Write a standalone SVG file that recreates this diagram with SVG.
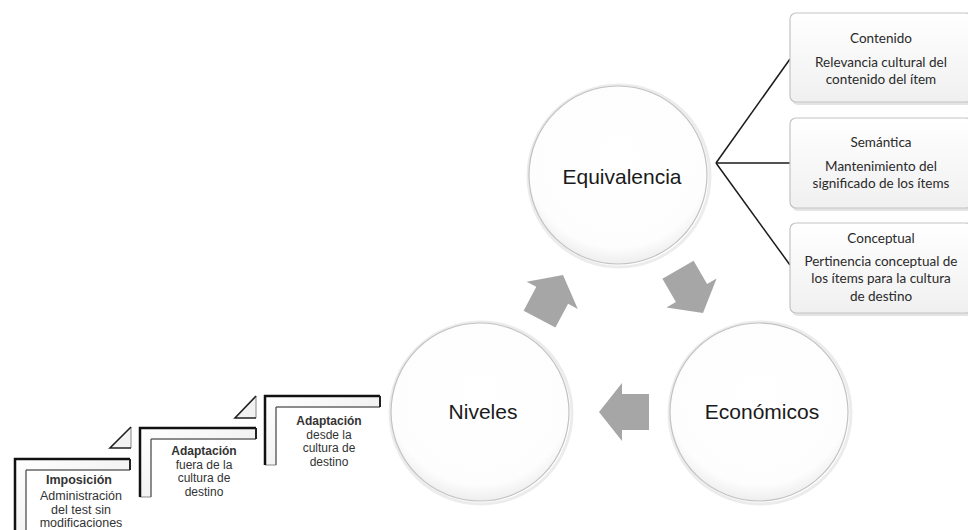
<svg xmlns="http://www.w3.org/2000/svg" width="968" height="530" viewBox="0 0 968 530">
<defs>
<radialGradient id="cg" cx="0.5" cy="0.4" r="0.6">
<stop offset="0" stop-color="#ffffff"/>
<stop offset="0.85" stop-color="#fdfdfd"/>
<stop offset="1" stop-color="#eeeeee"/>
</radialGradient>
<linearGradient id="bg" x1="0" y1="0" x2="0" y2="1">
<stop offset="0" stop-color="#ffffff"/>
<stop offset="1" stop-color="#f0f0f0"/>
</linearGradient>
<linearGradient id="band" x1="0" y1="0" x2="1" y2="1">
<stop offset="0" stop-color="#ffffff"/>
<stop offset="1" stop-color="#e8e8e8"/>
</linearGradient>
<path id="arr" d="M0,0 L-23,-29 L-23,-18 L-50,-18 L-50,18 L-23,18 L-23,29 Z"/>
</defs>
<style>
.circ{fill:url(#cg);stroke:#c2c2c2;stroke-width:1.2}
.ring{fill:none;stroke:#ececec;stroke-width:3}
.ctext{font-family:"Liberation Sans",Arial,sans-serif;font-size:21px;fill:#1a1a1a;text-anchor:middle}
.box{fill:url(#bg);stroke:#c4c4c4;stroke-width:1.2}
.bshadow{fill:#e4e4e4}
.btext{font-family:Lato,"Noto Sans",sans-serif;font-size:13.5px;fill:#2a2a2a;text-anchor:middle}
.arrow{fill:#a6a6a6}
.conn{stroke:#1a1a1a;stroke-width:1.5;fill:none}
.bandfill{fill:url(#band);stroke:#8a8a8a;stroke-width:1}
.bandout{fill:none;stroke:#111;stroke-width:2.5}
.bandin{fill:none;stroke:#555;stroke-width:1}
.bandend{fill:none;stroke:#222;stroke-width:2}
.tri{fill:#f2f2f2}
.triedge{fill:none;stroke:#222;stroke-width:1.6}
.triside{fill:none;stroke:#999;stroke-width:1.2}
.ltext{font-family:"Liberation Sans",Arial,sans-serif;font-size:12px;fill:#333;text-anchor:middle}
.lbold{font-weight:bold}
.big{font-size:12.5px}
</style>

<g id="connectors">
<path class="conn" d="M716,163 L790,59"/>
<path class="conn" d="M716,163 L790,163"/>
<path class="conn" d="M716,163 L790,265"/>
</g>

<g id="arrows">
<use href="#arr" class="arrow" transform="translate(563,275) rotate(-62)"/>
<use href="#arr" class="arrow" transform="translate(703,313) rotate(60)"/>
<use href="#arr" class="arrow" transform="translate(599,412) rotate(180)"/>
</g>

<g id="equivalencia">
<circle class="ring" cx="619" cy="176" r="91"/>
<circle class="circ" cx="618" cy="175" r="89"/>
<text class="ctext" x="622" y="184">Equivalencia</text>
</g>

<g id="economicos">
<circle class="ring" cx="760" cy="413" r="91"/>
<circle class="circ" cx="759" cy="412" r="89"/>
<text class="ctext" x="762" y="419">Económicos</text>
</g>

<g id="niveles">
<circle class="ring" cx="481" cy="413" r="91"/>
<circle class="circ" cx="480" cy="412" r="89"/>
<text class="ctext" x="483" y="419">Niveles</text>
</g>

<g id="contenido">
<rect class="bshadow" x="792" y="15" width="182" height="90" rx="6"/>
<rect class="box" x="790" y="13" width="182" height="89" rx="6"/>
<text class="btext" x="881" y="42.5">Contenido</text>
<text class="btext" x="881" y="66.5">Relevancia cultural del</text>
<text class="btext" x="881" y="84">contenido del ítem</text>
</g>

<g id="semantica">
<rect class="bshadow" x="792" y="120" width="182" height="91" rx="6"/>
<rect class="box" x="790" y="118" width="182" height="90" rx="6"/>
<text class="btext" x="881" y="146.5">Semántica</text>
<text class="btext" x="881" y="171">Mantenimiento  del</text>
<text class="btext" x="881" y="187.5">significado de los ítems</text>
</g>

<g id="conceptual">
<rect class="bshadow" x="792" y="225" width="182" height="91" rx="6"/>
<rect class="box" x="790" y="223" width="182" height="90" rx="6"/>
<text class="btext" x="881" y="242.5">Conceptual</text>
<text class="btext" x="881" y="266">Pertinencia conceptual de</text>
<text class="btext" x="881" y="283">los ítems para la cultura</text>
<text class="btext" x="881" y="301">de destino</text>
</g>

<g id="imposicion">
<path class="bandfill" d="M15,459 H130 V470 H26 V535 H15 Z"/>
<path class="bandin" d="M26,535 V470 H130"/>
<path class="bandout" d="M15,535 V459 H130"/>
<path class="bandend" d="M130,459 V470"/>
<text class="ltext lbold big" x="79" y="484">Imposición</text>
<text class="ltext big" x="81" y="500">Administración</text>
<text class="ltext big" x="81" y="513.5">del test sin</text>
<text class="ltext big" x="81" y="527">modificaciones</text>
</g>

<g id="tri1">
<polygon class="tri" points="110,448 131,448 131,427"/>
<path class="triside" d="M131,427 V448"/>
<path class="triedge" d="M131,427 L110,448 H131"/>
</g>

<g id="adaptacion-fuera">
<path class="bandfill" d="M140,428 H256 V439 H151 V497 H140 Z"/>
<path class="bandin" d="M151,497 V439 H256"/>
<path class="bandout" d="M140,497 V428 H256"/>
<path class="bandend" d="M256,428 V439"/>
<text class="ltext lbold" x="204" y="455">Adaptación</text>
<text class="ltext" x="204" y="468.5">fuera de la</text>
<text class="ltext" x="204" y="482">cultura de</text>
<text class="ltext" x="204" y="495.5">destino</text>
</g>

<g id="tri2">
<polygon class="tri" points="235,418 256,418 256,396"/>
<path class="triside" d="M256,396 V418"/>
<path class="triedge" d="M256,396 L235,418 H256"/>
</g>

<g id="adaptacion-desde">
<path class="bandfill" d="M265,396 H380 V407 H276 V465 H265 Z"/>
<path class="bandin" d="M276,465 V407 H380"/>
<path class="bandout" d="M265,465 V396 H380"/>
<path class="bandend" d="M380,396 V407"/>
<text class="ltext lbold" x="329" y="425">Adaptación</text>
<text class="ltext" x="329" y="438.5">desde la</text>
<text class="ltext" x="329" y="452">cultura de</text>
<text class="ltext" x="329" y="465.5">destino</text>
</g>
</svg>
